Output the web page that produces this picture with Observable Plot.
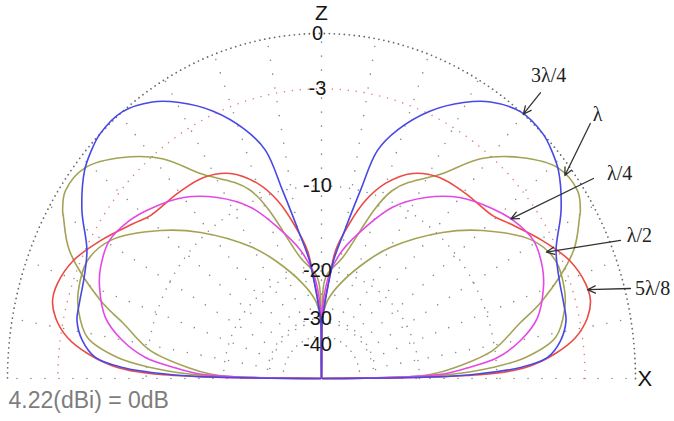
<!DOCTYPE html>
<html><head><meta charset="utf-8">
<script src="https://cdn.jsdelivr.net/npm/d3@7"></script>
<script src="https://cdn.jsdelivr.net/npm/@observablehq/plot@0.6"></script>
<style>body{margin:0;background:#fff}</style>
</head><body><div id="chart"></div>
<script>
// Elevation angle (deg, right half; mirrored for the left half) and relative gain (dB)
const blueAngles = [0, 0.7, 1.5, 2.9, 4.8, 8.2, 12.2, 15.8, 21.2, 26.5, 32.6, 38.6, 41.8, 45.1, 50.6, 56.1, 60.5, 65.9, 71.4, 74.9, 77.2, 80.5, 83.6, 85.4, 88, 89.4, 90];
const blueDb     = [-100, -18, -12, -7.8, -5.6, -4.5, -3.9, -3.8, -3.6, -3.1, -1.7, -0.6, -0.25, 0, 0, -0.6, -1.45, -2.8, -4.7, -6.5, -10.0, -14.6, -18.3, -22.1, -27.9, -31, -100];

const oliveAAngles = [0, 1, 2, 4.3, 8.5, 14.2, 17.8, 24.8, 29.6, 30.6, 33.7, 39.1, 45.3, 51.5, 57.0, 67.5, 79.2, 87.5, 89.3, 90];
const oliveADb     = [-100, -22, -18, -14.6, -10.2, -7.38, -5.19, -2.11, -0.97, -0.74, -0.34, -0.54, -1.79, -3.53, -5.92, -9.06, -17.7, -21.1, -30, -100];

const oliveBAngles = [0, 1, 2, 3.35, 5.35, 9.06, 14.3, 18.2, 24.65, 30.8, 39.9, 47.7, 59.9, 66.8, 77.6, 85.2, 89.3, 90];
const oliveBDb     = [-100, -20, -14, -10.4, -7.33, -4.83, -3.86, -3.51, -3.41, -4.22, -6.91, -9.58, -14.1, -17.0, -21.7, -25.5, -31, -100];

const magentaAngles = [0, 1, 2, 3.9, 6.2, 9.85, 14.4, 20.5, 24.6, 30.6, 36.8, 42.1, 50.05, 57.7, 65.5, 72.25, 79.8, 85.2, 89, 90];
const magentaDb     = [-100, -22, -16, -12.9, -9.83, -7.57, -5.87, -4.83, -4.40, -4.16, -4.62, -5.30, -6.51, -8.19, -10.4, -13.3, -16.7, -20.4, -27, -100];

const redAngles = [0, 0.8, 1.5, 2.81, 5.56, 8.35, 11.8, 14.8, 18.1, 23.4, 29.6, 36.9, 40.9, 49.5, 57.2, 64.0, 70.2, 74.8, 78.8, 83.1, 85.0, 88.5, 89.5, 90];
const redDb     = [-100, -16, -10.4, -7.38, -4.97, -3.45, -2.48, -2.08, -2.10, -2.57, -3.63, -4.97, -5.61, -5.98, -6.29, -7.10, -8.74, -10.75, -13.4, -16.9, -21.0, -28, -33, -100];

const seriesNames  = ["λ", "λ/2", "5λ/8", "λ/4", "3λ/4"];
const seriesColors = ["#a3a356", "#a3a356", "#ec4a42", "#e448e4", "#4848e6"];

const ringLevels = [0, -3, -10, -20, -30];
const tickValues = [0, -3, -10, -20, -30, -40];
const tickLabels = ["0", "-3", "-10", "-20", "-30", "-40"];
const spokeAngles = d3.range(0, 181, 10);

// annotation: label, tip angle on its curve, text position (angle, radius), arrow tail (angle, radius)
const annoLabels     = ["3λ/4", "λ", "λ/4", "λ/2", "5λ/8"];
const annoTipAngle   = [50, 37.2, 37.5, 27.1, 16.9];
const annoTextAngle  = [50.5, 41.0, 32.05, 22.3, 13.9];
const annoTextR      = [1.137, 1.165, 1.12, 1.094, 1.086];
const annoTailAngle  = [49.9, 40.8, 33.8, 22.8, 14.85];
const annoTailR      = [1.083, 1.131, 1.042, 1.033, 1.018];

const axisNames = ["X", "Z"];
const footer = "4.22(dBi) = 0dB";

// ARRL log-periodic radial scale
const rad = db => Math.pow(0.89, -db / 2);
const toRad = a => a * Math.PI / 180;

function curvePoints(angles, dbs) {
  const pts = [];
  angles.forEach((a, i) => { const r = rad(dbs[i]); pts.push({x: r * Math.cos(toRad(a)), y: r * Math.sin(toRad(a))}); });
  for (let i = angles.length - 1; i >= 0; i--) {
    const a = 180 - angles[i], r = rad(dbs[i]);
    pts.push({x: r * Math.cos(toRad(a)), y: r * Math.sin(toRad(a))});
  }
  return pts;
}
function interpDb(angles, dbs, a) {
  for (let i = 1; i < angles.length; i++) if (a <= angles[i]) {
    const t = (a - angles[i-1]) / (angles[i] - angles[i-1]);
    return dbs[i-1] + t * (dbs[i] - dbs[i-1]);
  }
  return dbs[dbs.length - 1];
}
const seriesAngles = [oliveAAngles, oliveBAngles, redAngles, magentaAngles, blueAngles];
const seriesDb = [oliveADb, oliveBDb, redDb, magentaDb, blueDb];

const ringPts = lvl => d3.range(0, 180.5, 0.5).map(a => ({x: rad(lvl) * Math.cos(toRad(a)), y: rad(lvl) * Math.sin(toRad(a))}));

const spokes = spokeAngles.map(a => ({
  x1: rad(-36) * Math.cos(toRad(a)), y1: rad(-36) * Math.sin(toRad(a)),
  x2: Math.cos(toRad(a)), y2: Math.sin(toRad(a))
}));

const annos = annoLabels.map((lab, i) => {
  const si = seriesNames.indexOf(lab);
  const ta = annoTipAngle[i];
  const tr = rad(interpDb(seriesAngles[si], seriesDb[si], ta));
  return {
    label: lab,
    tx: annoTextR[i] * Math.cos(toRad(annoTextAngle[i])), ty: annoTextR[i] * Math.sin(toRad(annoTextAngle[i])),
    x1: annoTailR[i] * Math.cos(toRad(annoTailAngle[i])), y1: annoTailR[i] * Math.sin(toRad(annoTailAngle[i])),
    x2: tr * Math.cos(toRad(ta)), y2: tr * Math.sin(toRad(ta))
  };
});

const ticks = tickValues.map((v, i) => ({label: tickLabels[i], y: rad(v)}));

const SANS = "'Liberation Sans', Arial, sans-serif";
const SERIF = "'Liberation Serif', 'Times New Roman', 'DejaVu Serif', serif";

const marks = [];
// grid rings
ringLevels.forEach(lvl => {
  let opts;
  if (lvl === 0) opts = {stroke: "#6a6a6a", strokeWidth: 1.8, strokeDasharray: "0,5"};
  else if (lvl === -3) opts = {stroke: "#e87a7a", strokeWidth: 1.6, strokeDasharray: "0,8"};
  else opts = {stroke: "#8a8a8a", strokeWidth: 1.6, strokeDasharray: "0,9"};
  marks.push(Plot.line(ringPts(lvl), Object.assign({x: "x", y: "y", strokeLinecap: "round"}, opts)));
});
marks.push(Plot.link(spokes, {x1: "x1", y1: "y1", x2: "x2", y2: "y2", stroke: "#8a8a8a", strokeWidth: 1.6, strokeDasharray: "0,14", strokeLinecap: "round"}));

// pattern curves
seriesNames.forEach((name, i) => {
  marks.push(Plot.line(curvePoints(seriesAngles[i], seriesDb[i]), {x: "x", y: "y", stroke: seriesColors[i], strokeWidth: 1.6, curve: "catmull-rom"}));
});

// dB tick labels
marks.push(Plot.text(ticks, {x: () => 0, y: "y", text: "label", dx: -4, fontSize: 20, fill: "#151515", fontFamily: SANS}));
// axis names
marks.push(Plot.text([axisNames[0]], {x: () => 1.03, y: () => 0, text: d => d, fontSize: 22, fill: "#151515", fontFamily: SANS}));
marks.push(Plot.text([axisNames[1]], {x: () => 0, y: () => 1.06, text: d => d, fontSize: 21, fill: "#151515", fontFamily: SANS}));

// annotations
marks.push(Plot.arrow(annos, {x1: "x1", y1: "y1", x2: "x2", y2: "y2", stroke: "#333", strokeWidth: 1.3, headLength: 10, headAngle: 50}));
marks.push(Plot.text(annos, {x: "tx", y: "ty", text: "label", fontSize: 20, fill: "#222", fontFamily: SERIF}));

// footer
marks.push(Plot.text([footer], {frameAnchor: "bottom-left", text: d => d, dx: 8, dy: -14, textAnchor: "start", fontSize: 23, fill: "#7d7d7d", fontFamily: SANS}));

const chart = Plot.plot({
  width: 674, height: 421, margin: 0,
  x: {domain: [-1, 1], range: [7, 635], axis: null},
  y: {domain: [0, 1], range: [378, 33], axis: null},
  style: {background: "white", overflow: "visible"},
  marks
});
document.getElementById("chart").appendChild(chart);
</script>
</body></html>
